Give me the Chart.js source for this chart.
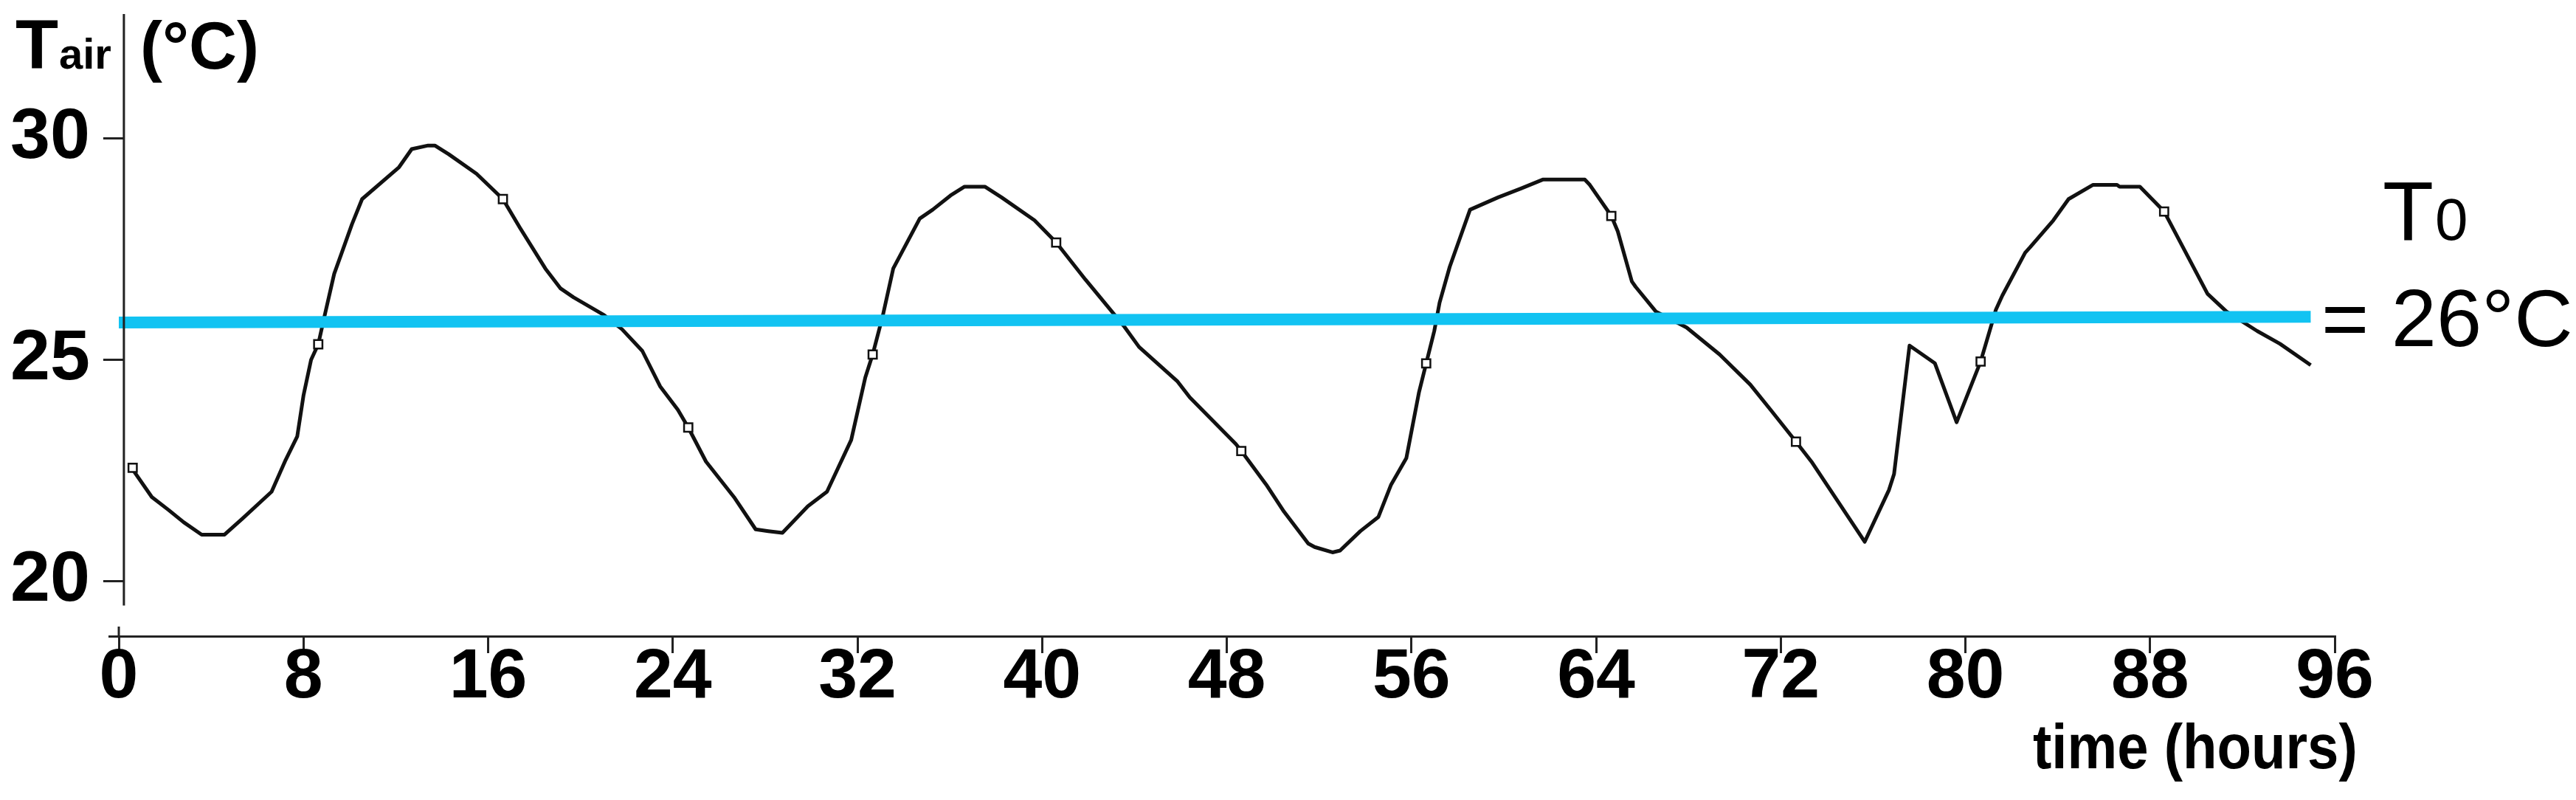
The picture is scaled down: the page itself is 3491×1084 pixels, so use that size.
<!DOCTYPE html>
<html>
<head>
<meta charset="utf-8">
<script src="https://cdn.jsdelivr.net/npm/chart.js@4.4.1/dist/chart.umd.min.js"></script>
<style>
  html, body { margin: 0; padding: 0; background: #fff; overflow: hidden; }
  #wrap { width: 3491px; height: 1084px; }
</style>
</head>
<body>
<div id="wrap"><canvas id="tair"></canvas></div>
<script>
// air temperature over four days
var hours = [0.55, 1.43, 2.15, 2.81, 3.59, 4.58, 5.35, 6.62, 7.23, 7.73, 8.0, 8.33, 8.64, 8.94, 9.33, 9.66, 10.1, 10.54,
  12.14, 12.69, 13.4, 13.69, 14.3, 15.5, 16.64, 17.38, 18.48, 19.14, 19.7, 21.02, 21.8, 22.68, 23.45, 24.22, 24.67,
  25.44, 26.65, 27.59, 28.14, 28.75, 29.85, 30.68, 31.73, 32.34, 32.66, 33.1, 33.55, 34.7, 35.26, 36.03, 36.64,
  37.52, 38.24, 39.67, 40.61, 41.88, 43.53, 44.2, 45.85, 46.4, 48.39, 48.63, 49.71, 50.48, 51.53, 51.81, 52.58,
  52.91, 53.79, 54.57, 55.12, 55.78, 56.33, 56.64, 56.99, 57.22, 57.66, 58.54, 59.76, 60.75, 61.69, 63.51, 63.73,
  64.66, 64.94, 65.55, 65.71, 66.59, 67.92, 69.35, 70.68, 71.56, 72.66, 73.33, 75.64, 76.69, 76.91, 77.58, 78.68,
  79.62, 80.66, 81.32, 81.6, 82.59, 82.8, 83.81, 84.47, 85.52, 86.57, 86.68, 87.56, 88.61, 89.55, 90.49, 91.31,
  92.64, 93.63, 94.96];
var tAir = [22.56, 21.9, 21.61, 21.33, 21.05, 21.05, 21.41, 22.02, 22.74, 23.27, 24.19, 25.0, 25.35, 26.05, 26.94, 27.42, 28.06, 28.63,
  29.35, 29.76, 29.84, 29.84, 29.64, 29.2, 28.63, 27.98, 27.06, 26.61, 26.41, 26.01, 25.69, 25.2, 24.4, 23.87, 23.47,
  22.7, 21.9, 21.17, 21.13, 21.09, 21.69, 22.02, 23.19, 24.6, 25.12, 26.0, 27.06, 28.19, 28.39, 28.71, 28.91,
  28.91, 28.67, 28.15, 27.65, 26.81, 25.77, 25.29, 24.52, 24.15, 23.1, 22.94, 22.18, 21.57, 20.85, 20.77, 20.65,
  20.69, 21.13, 21.45, 22.18, 22.78, 24.27, 24.92, 25.65, 26.29, 27.1, 28.39, 28.67, 28.87, 29.07, 29.07, 28.95,
  28.25, 27.9, 26.77, 26.65, 26.09, 25.73, 25.12, 24.44, 23.87, 23.15, 22.7, 20.89, 22.06, 22.42, 25.32, 24.92,
  23.59, 24.96, 26.13, 26.45, 27.42, 27.54, 28.15, 28.63, 28.95, 28.95, 28.91, 28.91, 28.35, 27.42, 26.49, 26.09,
  25.65, 25.36, 24.88];

// small square markers on the curve
var markHours = [0.6, 8.64, 16.64, 24.67, 32.66, 40.61, 48.63, 56.64, 64.66, 72.66, 80.66, 88.61];
var markTemps = [22.56, 25.35, 28.63, 23.47, 25.12, 27.65, 22.94, 24.92, 28.25, 23.15, 24.96, 28.35];

// reference temperature T0 (drawn slightly tilted in the source)
var t0Hours = [0, 94.96];
var t0Temps = [25.84, 25.97];

var xTicks = [0, 8, 16, 24, 32, 40, 48, 56, 64, 72, 80, 88, 96];
var yTicks = [20, 25, 30];

var FONT = '"Liberation Sans", Arial, Helvetica, sans-serif';

function pts(xs, ys) {
  return xs.map(function (x, i) { return { x: x, y: ys[i] }; });
}

// axes are drawn apart in the figure: y axis stops above the x axis
var axesAndText = {
  id: 'axesAndText',
  afterDraw: function (chart) {
    var ctx = chart.ctx;
    var xs = chart.scales.x, ys = chart.scales.y;
    var ax = xs.getPixelForValue(0.22);
    ctx.save();
    ctx.strokeStyle = '#222';
    ctx.lineWidth = 3;
    ctx.beginPath();
    ctx.moveTo(ax, chart.chartArea.top);
    ctx.lineTo(ax, ys.getPixelForValue(19.45));
    yTicks.forEach(function (v) {
      var py = ys.getPixelForValue(v);
      ctx.moveTo(ax - 28, py);
      ctx.lineTo(ax, py);
    });
    var x0 = xs.getPixelForValue(0);
    ctx.moveTo(x0, chart.chartArea.bottom - 13);
    ctx.lineTo(x0, chart.chartArea.bottom);
    ctx.stroke();

    ctx.fillStyle = '#000';
    ctx.textBaseline = 'alphabetic';
    ctx.textAlign = 'left';
    ctx.font = 'bold 95px ' + FONT;
    ctx.fillText('T', 21, 93);
    ctx.font = 'bold 58px ' + FONT;
    ctx.fillText('air', 80, 93);
    ctx.font = 'bold 90px ' + FONT;
    ctx.fillText('(°C)', 190, 93);

    ctx.font = '113px ' + FONT;
    ctx.fillText('T', 3229, 325);
    ctx.font = '80px ' + FONT;
    ctx.fillText('0', 3300, 325);
    ctx.font = '110px ' + FONT;
    ctx.fillText('= 26°C', 3146, 469);

    // axis title is a heavy but narrow face
    ctx.font = 'bold 86px ' + FONT;
    ctx.translate(2755, 1041);
    ctx.scale(0.885, 1);
    ctx.fillText('time (hours)', 0, 0);
    ctx.restore();
  }
};

new Chart('tair', {
  type: 'line',
  data: {
    datasets: [{
      label: 'T0',
      data: pts(t0Hours, t0Temps),
      borderColor: '#12C3F2',
      borderWidth: 16,
      pointRadius: 0,
      tension: 0
    }, {
      label: 'markers',
      data: pts(markHours, markTemps),
      showLine: false,
      pointStyle: 'rect',
      pointRadius: 8,
      pointBorderWidth: 2.5,
      pointBorderColor: '#111',
      pointBackgroundColor: '#fff'
    }, {
      label: 'Tair',
      data: pts(hours, tAir),
      borderColor: '#111',
      borderWidth: 5,
      borderJoinStyle: 'round',
      pointRadius: 0,
      tension: 0
    }]
  },
  options: {
    responsive: true,
    maintainAspectRatio: false,
    animation: false,
    events: [],
    layout: { padding: { left: 0, right: 327, top: 19, bottom: 0 } },
    plugins: { legend: { display: false }, tooltip: { enabled: false } },
    scales: {
      x: {
        type: 'linear',
        min: -0.416,
        max: 96,
        afterFit: function (s) {
          s.height = 222;
          s.paddingLeft = 0; s.paddingRight = 0;
        },
        afterBuildTicks: function (s) { s.ticks = xTicks.map(function (v) { return { value: v }; }); },
        border: { display: true, color: '#222', width: 3 },
        grid: { drawOnChartArea: false, drawTicks: true, tickLength: 23, color: '#222', lineWidth: 3 },
        ticks: {
          maxRotation: 0,
          autoSkip: false,
          padding: -14,
          color: '#000',
          font: { family: FONT, size: 95, weight: 'bold', lineHeight: 1 }
        }
      },
      y: {
        min: 18.757,
        max: 32.81,
        afterFit: function (s) {
          s.width = 148;
          s.paddingTop = 0; s.paddingBottom = 0;
        },
        afterBuildTicks: function (s) { s.ticks = yTicks.map(function (v) { return { value: v }; }); },
        border: { display: false },
        grid: { display: false, drawTicks: false },
        ticks: {
          padding: 26,
          color: '#000',
          font: { family: FONT, size: 97, weight: 'bold', lineHeight: 1 }
        }
      }
    }
  },
  plugins: [axesAndText]
});
</script>
</body>
</html>
